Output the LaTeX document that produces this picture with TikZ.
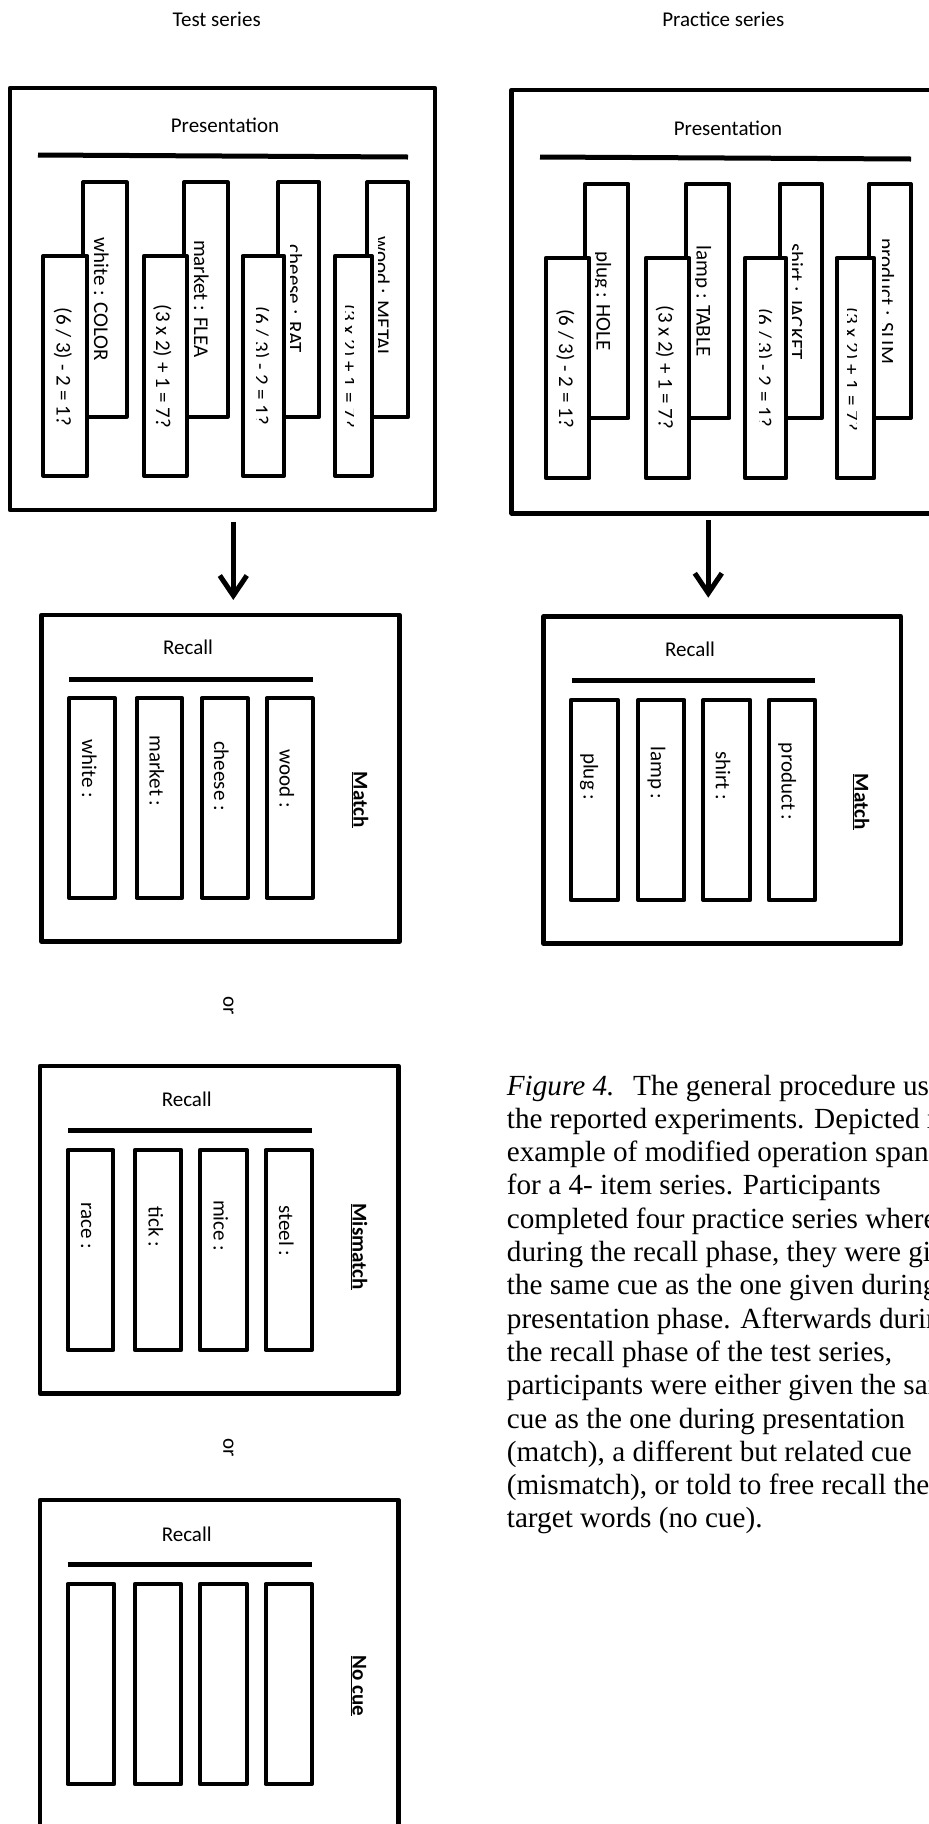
\documentclass[tikz,border=0pt]{standalone}
\usepackage{fontspec}
\setmainfont{Carlito}
\newfontfamily\capfont{Liberation Serif}
\usetikzlibrary{arrows.meta}
\begin{document}
\begin{tikzpicture}[x=1pt,y=-1pt,
  boxframe/.style={draw, line width=4.5pt, line join=round, fill=white, inner sep=0pt, outer sep=0pt},
  cardbox/.style={draw, line width=4.3pt, line join=round, fill=white, inner sep=0pt, outer sep=0pt},
  hbar/.style={line width=5pt},
  lbl/.style={font=\fontsize{21}{25}\selectfont, inner sep=0pt, anchor=base},
  vlbl/.style={lbl, rotate=-90},
  tagtxt/.style={vlbl, font=\fontsize{21}{25}\selectfont\bfseries},
  captxt/.style={font=\capfont\fontsize{29.2}{33}\selectfont, inner sep=0pt, anchor=base west},
  arr/.style={line width=5pt, -{Straight Barb[length=20pt,width=27pt]}},
]
\useasboundingbox (0,0) rectangle (929,1824);
\clip (0,0) rectangle (929,1824);
\fill[white] (0,0) rectangle (929,1824);

% titles
\node[lbl] (ttitle) at (216.7,26) {Test series};
\node[lbl] (ptitle) at (723.3,26) {Practice series};

% ---------- Test presentation ----------
\node[boxframe, minimum width=425pt, minimum height=422pt] (tp) at (222.5,299) {};
\node[lbl] (tpl) at (225,132.7) {Presentation};
\draw[hbar] (38,155) -- (408,157);

\node[cardbox, minimum width=43.4pt, minimum height=234.4pt] (tb1) at (105,299.5) {};
\node[cardbox, minimum width=43.7pt, minimum height=234.4pt] (tb2) at (205.85,299.5) {};
\node[cardbox, minimum width=40.7pt, minimum height=234.4pt] (tb3) at (298.65,299.5) {};
\node[cardbox, minimum width=41pt, minimum height=234.4pt] (tb4) at (387.8,299.5) {};
\node[vlbl] (tb1t) at (94,299.5) {white : COLOR};
\node[vlbl] (tb2t) at (194,299) {market : FLEA};
\begin{scope}
\clip (290.5,180) rectangle (330,420);
\node[vlbl] (tb3t) at (287.5,299) {cheese : RAT};
\end{scope}
\begin{scope}
\clip (378,180) rectangle (420,420);
\node[vlbl] (tb4t) at (375,297.5) {wood : METAL};
\end{scope}

\node[cardbox, minimum width=44pt, minimum height=219.7pt] (tf1) at (65.3,365.85) {};
\node[cardbox, minimum width=42.7pt, minimum height=219.7pt] (tf2) at (165.35,365.85) {};
\node[cardbox, minimum width=41.3pt, minimum height=219.7pt] (tf3) at (263.35,365.85) {};
\node[cardbox, minimum width=36.7pt, minimum height=219.7pt] (tf4) at (353.35,365.85) {};
\node[vlbl] (tf1t) at (56.5,367) {(6 / 3) - 2 = 1?};
\node[vlbl] (tf2t) at (156,366.5) {(3 x 2) + 1 = 7?};
\begin{scope}
\clip (256,250) rectangle (282,470);
\node[vlbl] (tf3t) at (254,366) {(6 / 3) - 2 = 1?};
\end{scope}
\begin{scope}
\clip (345.5,250) rectangle (353.5,470);
\node[vlbl] (tf4t) at (342,366) {(3 x 2) + 1 = 7?};
\end{scope}

% ---------- Practice presentation ----------
\node[boxframe, minimum width=425pt, minimum height=423.3pt] (pp) at (724.2,301.65) {};
\node[lbl] (ppl) at (728,135) {Presentation};
\draw[hbar] (540,157) -- (911,159);

\node[cardbox, minimum width=43.3pt, minimum height=234pt] (pb1) at (606.65,301) {};
\node[cardbox, minimum width=43.3pt, minimum height=234pt] (pb2) at (707.65,301) {};
\node[cardbox, minimum width=41.7pt, minimum height=234pt] (pb3) at (800.85,301) {};
\node[cardbox, minimum width=41.4pt, minimum height=234pt] (pb4) at (890,301) {};
\begin{scope}
\clip (595.8,180) rectangle (630,420);
\node[vlbl] (pb1t) at (596.5,301) {plug : HOLE};
\end{scope}
\begin{scope}
\clip (695.8,180) rectangle (730,420);
\node[vlbl] (pb2t) at (696.5,301) {lamp : TABLE};
\end{scope}
\begin{scope}
\clip (792.5,180) rectangle (825,420);
\node[vlbl] (pb3t) at (788.5,301.5) {shirt : JACKET};
\end{scope}
\begin{scope}
\clip (882,180) rectangle (915,420);
\node[vlbl] (pb4t) at (879.5,301.5) {product : SLIM};
\end{scope}

\node[cardbox, minimum width=43.3pt, minimum height=220pt] (pf1) at (567.65,368) {};
\node[cardbox, minimum width=43.3pt, minimum height=220pt] (pf2) at (667.65,368) {};
\node[cardbox, minimum width=41pt, minimum height=220pt] (pf3) at (765.5,368) {};
\node[cardbox, minimum width=37.3pt, minimum height=220pt] (pf4) at (855.35,368) {};
\node[vlbl] (pf1t) at (559,368.5) {(6 / 3) - 2 = 1?};
\node[vlbl] (pf2t) at (658.5,367.5) {(3 x 2) + 1 = 7?};
\begin{scope}
\clip (759,250) rectangle (784,475);
\node[vlbl] (pf3t) at (757,367.5) {(6 / 3) - 2 = 1?};
\end{scope}
\begin{scope}
\clip (847.5,250) rectangle (856,475);
\node[vlbl] (pf4t) at (844.5,369) {(3 x 2) + 1 = 7?};
\end{scope}

% ---------- Test recall: match ----------
\node[boxframe, minimum width=357.6pt, minimum height=326.7pt] (tm) at (220.5,778.35) {};
\node[lbl] (tml) at (188,654) {Recall};
\draw[hbar] (69,679) -- (312.7,679);
\node[cardbox, minimum width=46pt, minimum height=199.4pt] (tm1) at (92,798) {};
\node[cardbox, minimum width=45.6pt, minimum height=199.4pt] (tm2) at (159.5,798) {};
\node[cardbox, minimum width=46pt, minimum height=199.4pt] (tm3) at (224.7,798) {};
\node[cardbox, minimum width=46pt, minimum height=199.4pt] (tm4) at (289.7,798) {};
\node[vlbl] (tm1t) at (82,769) {white :};
\node[vlbl] (tm2t) at (149.5,771) {market :};
\node[vlbl] (tm3t) at (214,776) {cheese :};
\node[vlbl] (tm4t) at (279.5,779) {wood :};
\node[tagtxt] (tmtag) at (353.5,799.7) {\underline{Match}};

% ---------- Practice recall: match ----------
\node[boxframe, minimum width=357.7pt, minimum height=326.6pt] (pm) at (722.15,780) {};
\node[lbl] (pml) at (690,656.7) {Recall};
\draw[hbar] (571.7,680.3) -- (815,680.3);
\node[cardbox, minimum width=46.7pt, minimum height=200pt] (pm1) at (594.35,800) {};
\node[cardbox, minimum width=46pt, minimum height=200pt] (pm2) at (661.3,800) {};
\node[cardbox, minimum width=46.7pt, minimum height=200pt] (pm3) at (726.65,800) {};
\node[cardbox, minimum width=46pt, minimum height=200pt] (pm4) at (792,800) {};
\node[vlbl] (pm1t) at (583.5,776.7) {plug :};
\node[vlbl] (pm2t) at (650.8,773) {lamp :};
\node[vlbl] (pm3t) at (715.8,776) {shirt :};
\node[vlbl] (pm4t) at (781.5,781.7) {product :};
\node[tagtxt] (pmtag) at (854.5,801.7) {\underline{Match}};

% arrows
\coordinate (ta) at (233.3,0);
\coordinate (pa) at (708.3,0);
\draw[arr, shorten <=11.7pt, shorten >=15pt] (tp.south -| ta) -- (tm.north -| ta);
\draw[arr, shorten <=6.7pt, shorten >=19pt] (pp.south -| pa) -- (pm.north -| pa);

\node[vlbl] (or1) at (223.3,1006) {or};

% ---------- Test recall: mismatch ----------
\node[boxframe, minimum width=358.3pt, minimum height=327.3pt] (mm) at (219.15,1229.65) {};
\node[lbl] (mml) at (186.7,1106.7) {Recall};
\draw[hbar] (68.3,1130) -- (311.7,1130);
\node[cardbox, minimum width=45.6pt, minimum height=200pt] (mm1) at (90.5,1250) {};
\node[cardbox, minimum width=46pt, minimum height=200pt] (mm2) at (158,1250) {};
\node[cardbox, minimum width=46.7pt, minimum height=200pt] (mm3) at (223.35,1250) {};
\node[cardbox, minimum width=46pt, minimum height=200pt] (mm4) at (288.7,1250) {};
\node[vlbl] (mm1t) at (81.2,1225.8) {race :};
\node[vlbl] (mm2t) at (148.5,1226.7) {tick :};
\node[vlbl] (mm3t) at (213.5,1225.8) {mice :};
\node[vlbl] (mm4t) at (279.2,1231) {steel :};
\node[tagtxt] (mmtag) at (352.5,1246.7) {\underline{Mismatch}};

\node[vlbl] (or2) at (223.3,1448) {or};

% ---------- Test recall: no cue ----------
\node[boxframe, minimum width=358.3pt, minimum height=332pt] (nc) at (219.15,1666) {};
\node[lbl] (ncl) at (186.7,1541) {Recall};
\draw[hbar] (67.7,1564.3) -- (311.7,1564.3);
\node[cardbox, minimum width=46.3pt, minimum height=200pt] (nc1) at (90.85,1684) {};
\node[cardbox, minimum width=46pt, minimum height=200pt] (nc2) at (158,1684) {};
\node[cardbox, minimum width=46.7pt, minimum height=200pt] (nc3) at (223.35,1684) {};
\node[cardbox, minimum width=46pt, minimum height=200pt] (nc4) at (288.7,1684) {};
\node[tagtxt] (nctag) at (352.5,1685.8) {\underline{No cue}};

% ---------- caption ----------
\node[captxt] (c1) at (506.7,1095) {\textit{Figure 4.}\hspace{0.64em}The general procedure used in};
\node[captxt] (c2) at (506.7,1128.3) {the reported experiments. Depicted is an};
\node[captxt] (c3) at (506.7,1161.6) {example of modified operation span task};
\node[captxt] (c4) at (506.7,1194.9) {for a 4- item series. Participants};
\node[captxt] (c5) at (506.7,1228.2) {completed four practice series where};
\node[captxt] (c6) at (506.7,1261.5) {during the recall phase, they were given};
\node[captxt] (c7) at (506.7,1294.8) {the same cue as the one given during the};
\node[captxt] (c8) at (506.7,1328.1) {presentation phase. Afterwards during};
\node[captxt] (c9) at (506.7,1361.4) {the recall phase of the test series,};
\node[captxt] (c10) at (506.7,1394.7) {participants were either given the same};
\node[captxt] (c11) at (506.7,1428) {cue as the one during presentation};
\node[captxt] (c12) at (506.7,1461.3) {(match), a different but related cue};
\node[captxt] (c13) at (506.7,1494.6) {(mismatch), or told to free recall the};
\node[captxt] (c14) at (506.7,1527.9) {target words (no cue).};
\end{tikzpicture}
\end{document}
